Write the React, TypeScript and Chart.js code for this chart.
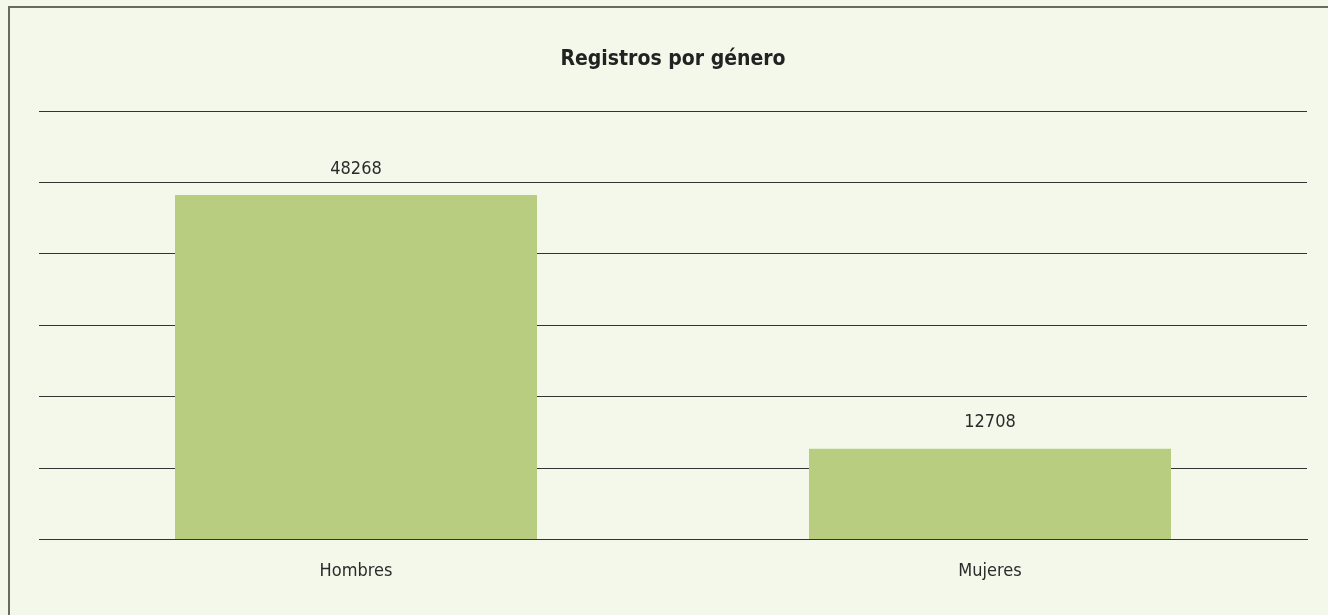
import React, { useEffect, useRef } from "react";
import { Chart, registerables } from "chart.js";

Chart.register(...registerables);

const categories = ["Hombres", "Mujeres"];
const registros = [48268, 12708];
const yTicks = [0, 10000, 20000, 30000, 40000, 50000, 60000];

const FONT = '"Liberation Sans Narrow", "DejaVu Sans Condensed", "Arial Narrow", sans-serif';

const valueLabels = {
  id: "valueLabels",
  afterDatasetsDraw(chart: any) {
    const ctx = chart.ctx;
    const meta = chart.getDatasetMeta(0);
    ctx.save();
    ctx.font = `18px ${FONT}`;
    ctx.fillStyle = "#2b2b2b";
    ctx.textAlign = "center";
    ctx.textBaseline = "middle";
    meta.data.forEach((bar: any, i: number) => {
      ctx.fillText(String(chart.data.datasets[0].data[i]), bar.x, bar.y - 26);
    });
    ctx.restore();
  },
};

export default function App() {
  const ref = useRef<HTMLCanvasElement | null>(null);
  useEffect(() => {
    if (!ref.current) return;
    const chart = new Chart(ref.current, {
      type: "bar",
      data: {
        labels: categories,
        datasets: [
          {
            label: "Registros",
            data: registros,
            backgroundColor: "#b8cd7f",
            borderWidth: 0,
            categoryPercentage: 1,
            barPercentage: 0.571,
          },
        ],
      },
      options: {
        animation: false,
        responsive: false,
        maintainAspectRatio: false,
        layout: { padding: { left: 39, right: 21, top: 0, bottom: 12 } },
        plugins: {
          legend: { display: false },
          tooltip: { enabled: false },
          title: {
            display: true,
            text: "Registros por género",
            color: "#222222",
            font: { family: FONT, size: 21, weight: "bold" },
            padding: { top: 47, bottom: 39 },
          },
        },
        scales: {
          x: {
            grid: { display: false, drawTicks: false },
            border: { display: true, color: "#333333", width: 1 },
            ticks: {
              color: "#2b2b2b",
              font: { family: FONT, size: 18 },
              padding: 21,
            },
          },
          y: {
            min: 0,
            max: yTicks[yTicks.length - 1],
            afterBuildTicks: (axis: any) => {
              axis.ticks = yTicks.map((v) => ({ value: v }));
            },
            grid: { color: "#333333", lineWidth: 1, drawTicks: false },
            border: { display: false },
            ticks: { display: false },
          },
        },
      },
      plugins: [valueLabels],
    });
    return () => chart.destroy();
  }, []);

  return (
    <div style={{ position: "fixed", left: 0, top: 0, width: 1328, height: 615, background: "#f4f8ea", overflow: "hidden" }}>
      <div
        style={{
          position: "absolute",
          left: 8,
          top: 6,
          width: 1400,
          height: 700,
          borderLeft: "2px solid #6a6a62",
          borderTop: "2px solid #6a6a62",
        }}
      />
      <canvas ref={ref} width={1328} height={615} style={{ position: "absolute", left: 0, top: 0, width: 1328, height: 615 }} />
    </div>
  );
}
